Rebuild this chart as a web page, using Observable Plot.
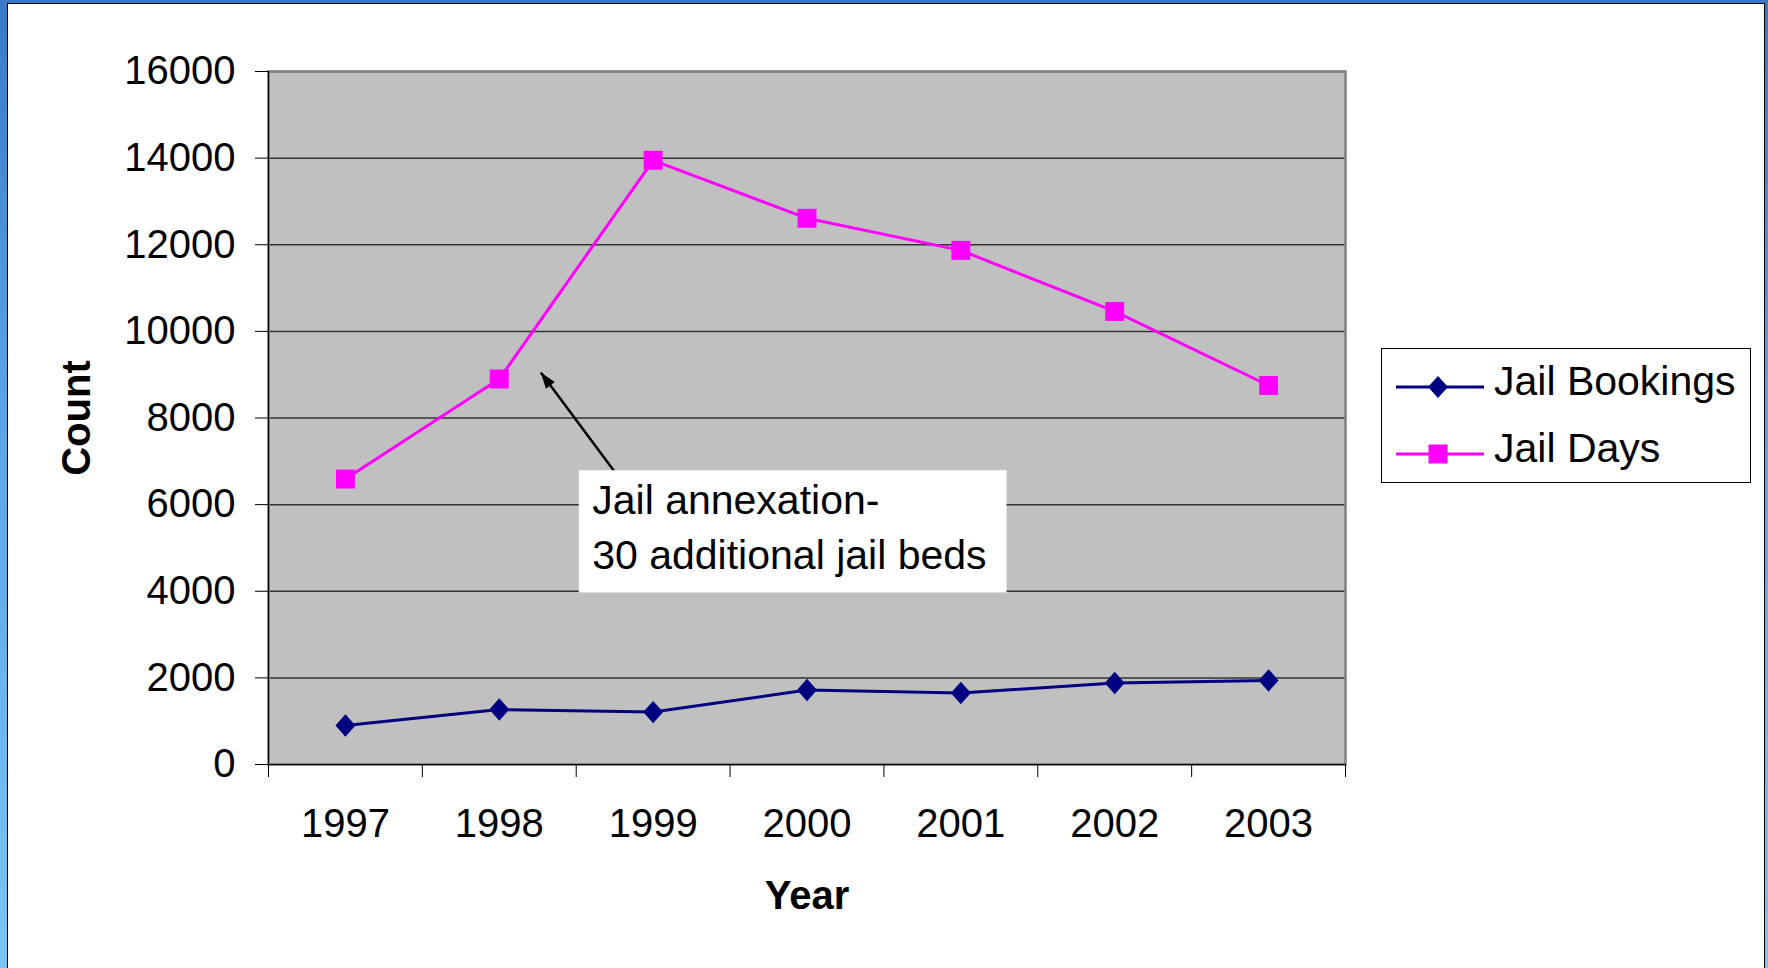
<!DOCTYPE html>
<html>
<head>
<meta charset="utf-8">
<script src="https://cdn.jsdelivr.net/npm/d3@7"></script>
<script src="https://cdn.jsdelivr.net/npm/@observablehq/plot@0.6"></script>
<style>
html, body { margin: 0; padding: 0; overflow: hidden; background: #fff; }
#page { position: relative; width: 1768px; height: 968px; overflow: hidden;
  background: linear-gradient(180deg, #3a78c8 0%, #5aa2e6 40%, #7cc4f4 100%); }
#panel { position: absolute; left: 7px; top: 3px; width: 1758px; height: 980px; background: #fff;
  border-left: 1.5px solid #000; border-top: 1.5px solid #000; border-right: 1.5px solid #000; box-sizing: border-box; }
#chart { position: absolute; left: 0; top: 0; }
#legend { position: absolute; left: 1381px; top: 348px; width: 370px; height: 135px; box-sizing: border-box;
  border: 1.5px solid #000; background: #fff; }
</style>
</head>
<body>
<div id="page">
  <div id="panel"></div>
  <div id="chart"></div>
  <div id="legend"></div>
</div>
<script>
// ---- data ----
const years = [1997, 1998, 1999, 2000, 2001, 2002, 2003];
const jailBookings = [900, 1270, 1210, 1720, 1650, 1880, 1940];
const jailDays = [6590, 8900, 13950, 12610, 11870, 10460, 8750];
const seriesNames = ["Jail Bookings", "Jail Days"];
const seriesColors = ["#000080", "#FF00FF"];
const yTicks = [0, 2000, 4000, 6000, 8000, 10000, 12000, 14000, 16000];
const xLabel = "Year";
const yLabel = "Count";
const annotation = {
  text: "Jail annexation-\n30 additional jail beds",
  tipYear: 1998.27, tipValue: 9050,
  tailYear: 1998.745, tailValue: 6782,
  boxYear1: 1998.52, boxYear2: 2001.30, boxValue1: 3961, boxValue2: 6782,
  textYear: 1998.604, textValue: 5547
};

// ---- tables ----
const bookingsRows = years.map((year, i) => ({year, value: jailBookings[i]}));
const daysRows = years.map((year, i) => ({year, value: jailDays[i]}));
const boundaries = years.map(y => y - 0.5).concat([years[years.length - 1] + 0.5]);
const yMid = (yTicks[0] + yTicks[yTicks.length - 1]) / 2;

const rhombus = {
  draw(ctx, size) {
    const r = Math.sqrt(size / Math.PI);
    ctx.moveTo(0, -r * 1.12); ctx.lineTo(r, 0); ctx.lineTo(0, r * 1.12); ctx.lineTo(-r, 0); ctx.closePath();
  }
};
// arrowhead: tip at the origin, pointing up
const arrowHead = {
  draw(ctx, size) {
    const r = Math.sqrt(size / Math.PI);
    ctx.moveTo(0, 0); ctx.lineTo(r * 0.55, r * 1.6); ctx.lineTo(-r * 0.55, r * 1.6); ctx.closePath();
  }
};

const font = "'Liberation Sans', Arial, Helvetica, sans-serif";

const chart = Plot.plot({
  width: 1768,
  height: 968,
  marginLeft: 268,
  marginRight: 423,
  marginTop: 71,
  marginBottom: 204,
  style: {background: "transparent", fontFamily: font, fontSize: "40px", color: "#000", overflow: "visible"},
  x: {type: "linear", domain: [boundaries[0], boundaries[boundaries.length - 1]], label: null},
  y: {domain: [yTicks[0], yTicks[yTicks.length - 1]], label: null},
  marks: [
    Plot.frame({fill: "#C0C0C0"}),
    Plot.ruleY(yTicks, {stroke: "#333", strokeWidth: 1.5}),
    Plot.frame({stroke: "#808080", strokeWidth: 2.5}),
    Plot.ruleX([boundaries[0]], {stroke: "#000", strokeWidth: 1.2}),
    Plot.ruleY([0], {stroke: "#000", strokeWidth: 1.2}),
    Plot.axisY({ticks: yTicks, tickSize: 13, tickPadding: 20, fontSize: 40, label: null, tickFormat: d => String(d), stroke: "#000"}),
    Plot.axisX({ticks: boundaries, tickSize: 13, tickFormat: () => "", label: null, stroke: "#000"}),
    Plot.axisX({ticks: years, tickSize: 0, tickPadding: 44, fontSize: 40, label: null, tickFormat: d => String(d)}),
    Plot.line(bookingsRows, {x: "year", y: "value", stroke: seriesColors[0], strokeWidth: 3}),
    Plot.dot(bookingsRows, {x: "year", y: "value", symbol: rhombus, r: 10, fill: seriesColors[0], stroke: "none"}),
    Plot.line(daysRows, {x: "year", y: "value", stroke: seriesColors[1], strokeWidth: 3}),
    Plot.dot(daysRows, {x: "year", y: "value", symbol: "square", r: 10.7, fill: seriesColors[1], stroke: "none"}),
    Plot.link([annotation], {x1: "tailYear", y1: "tailValue", x2: "tipYear", y2: "tipValue",
      stroke: "#000", strokeWidth: 2.5}),
    Plot.dot([annotation], {x: "tipYear", y: "tipValue", symbol: arrowHead, r: 10, rotate: -36.6,
      fill: "#000", stroke: "none"}),
    Plot.rect([annotation], {x1: "boxYear1", x2: "boxYear2", y1: "boxValue1", y2: "boxValue2", fill: "#fff"}),
    Plot.text([annotation], {x: "textYear", y: "textValue", text: "text", textAnchor: "start",
      lineAnchor: "middle", lineHeight: 1.33, fontSize: 41, fill: "#000"}),
    Plot.text([xLabel], {text: d => d, frameAnchor: "bottom", dy: 132, lineAnchor: "middle",
      fontSize: 40, fontWeight: "bold", fill: "#000"}),
    Plot.text([yLabel], {text: d => d, y: () => yMid, frameAnchor: "left", dx: -191, rotate: -90,
      textAnchor: "middle", lineAnchor: "middle", fontSize: 40, fontWeight: "bold", fill: "#000"})
  ]
});
document.getElementById("chart").appendChild(chart);

// ---- legend ----
const lg = d3.select("#legend").append("svg")
  .attr("width", 370).attr("height", 135)
  .style("position", "absolute").style("left", "-1.5px").style("top", "-1.5px")
  .style("font-family", font);
const rows = [{y: 39, base: 47}, {y: 106, base: 114}];
seriesNames.forEach((name, i) => {
  const g = lg.append("g");
  g.append("line").attr("x1", 15).attr("x2", 103).attr("y1", rows[i].y).attr("y2", rows[i].y)
    .attr("stroke", seriesColors[i]).attr("stroke-width", 3);
  if (i === 0) {
    g.append("path").attr("d", `M57,${rows[i].y - 11}L67,${rows[i].y}L57,${rows[i].y + 11}L47,${rows[i].y}Z`)
      .attr("fill", seriesColors[i]);
  } else {
    g.append("rect").attr("x", 47.5).attr("y", rows[i].y - 9.5).attr("width", 19).attr("height", 19)
      .attr("fill", seriesColors[i]);
  }
  g.append("text").attr("x", 113).attr("y", rows[i].base).attr("font-size", 41).attr("fill", "#000").text(name);
});
</script>
</body>
</html>
